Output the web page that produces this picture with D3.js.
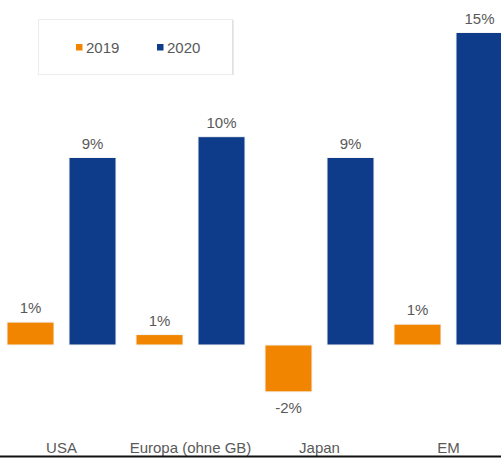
<!DOCTYPE html>
<html>
<head>
<meta charset="utf-8">
<script src="https://cdn.jsdelivr.net/npm/d3@7/dist/d3.min.js"></script>
<style>
  html, body { margin: 0; padding: 0; background: #fff; }
  svg { display: block; font-family: "Liberation Sans", Arial, sans-serif; }
</style>
</head>
<body>
<div id="chart"></div>
<script>
// Regions and yearly returns (percent)
const categories = ["USA", "Europa (ohne GB)", "Japan", "EM"];
const seriesNames = ["2019", "2020"];
const values2019 = [1.1, 0.5, -2.25, 1.0];
const values2020 = [9.0, 10.0, 9.0, 15.0];
const seriesColors = ["#F18500", "#0E3C8A"];

const W = 501, H = 458;
const svg = d3.select("#chart").append("svg").attr("width", W).attr("height", H);

const data = categories.map((c, i) => ({ cat: c, vals: [values2019[i], values2020[i]] }));

const x0 = d3.scaleBand().domain(categories).range([-3, 513])
  .paddingInner(0.155).paddingOuter(0.0775);
const x1 = d3.scaleBand().domain(seriesNames).range([0, x0.bandwidth()])
  .paddingInner(0.242).paddingOuter(0);
const y = d3.scaleLinear().domain([0, 15]).range([345, 32.5]);

const fmt = v => Math.round(v) + "%";
const textColor = "#595959";

// Bars
const groups = svg.selectAll("g.grp").data(data).join("g")
  .attr("class", "grp")
  .attr("transform", d => `translate(${x0(d.cat)},0)`);

groups.selectAll("rect").data(d => d.vals.map((v, j) => ({ v, s: seriesNames[j], j })))
  .join("rect")
  .attr("x", d => x1(d.s))
  .attr("width", x1.bandwidth())
  .attr("y", d => Math.min(y(d.v), y(0)))
  .attr("height", d => Math.abs(y(d.v) - y(0)))
  .attr("fill", d => seriesColors[d.j])
  .attr("stroke", "#f4f4f4")
  .attr("stroke-width", 1);

// Value labels
groups.selectAll("text.val").data(d => d.vals.map((v, j) => ({ v, s: seriesNames[j] })))
  .join("text")
  .attr("class", "val")
  .attr("x", d => x1(d.s) + x1.bandwidth() / 2)
  .attr("y", d => d.v >= 0 ? y(d.v) - 9 : y(d.v) + 21)
  .attr("text-anchor", "middle")
  .attr("font-size", 15)
  .attr("fill", textColor)
  .text(d => fmt(d.v));

// Category axis labels
const xAxis = d3.axisBottom(x0).tickSize(0).tickPadding(0);
const axG = svg.append("g").attr("transform", "translate(0,442)").call(xAxis);
axG.select(".domain").remove();
axG.selectAll("text")
  .attr("dy", null)
  .attr("y", 11)
  .attr("font-size", 15)
  .attr("font-family", "Liberation Sans, Arial, sans-serif")
  .attr("fill", textColor);

// Legend
const legend = svg.append("g");
legend.append("rect")
  .attr("x", 38.5).attr("y", 19.5).attr("width", 194).attr("height", 55)
  .attr("fill", "#fff").attr("stroke", "#ececec");
legend.append("line")
  .attr("x1", 233).attr("x2", 233).attr("y1", 20).attr("y2", 75)
  .attr("stroke", "#d6d6d6");
const legendX = [76, 157];
seriesNames.forEach((s, j) => {
  legend.append("rect")
    .attr("x", legendX[j]).attr("y", 44).attr("width", 6.5).attr("height", 6.5)
    .attr("fill", seriesColors[j]);
  legend.append("text")
    .attr("x", legendX[j] + 10).attr("y", 52.5)
    .attr("font-size", 15).attr("fill", textColor)
    .text(s);
});

// Bottom border line
svg.append("line")
  .attr("x1", 0).attr("x2", W).attr("y1", 456.5).attr("y2", 456.5)
  .attr("stroke", "#111").attr("stroke-width", 2);
</script>
</body>
</html>
